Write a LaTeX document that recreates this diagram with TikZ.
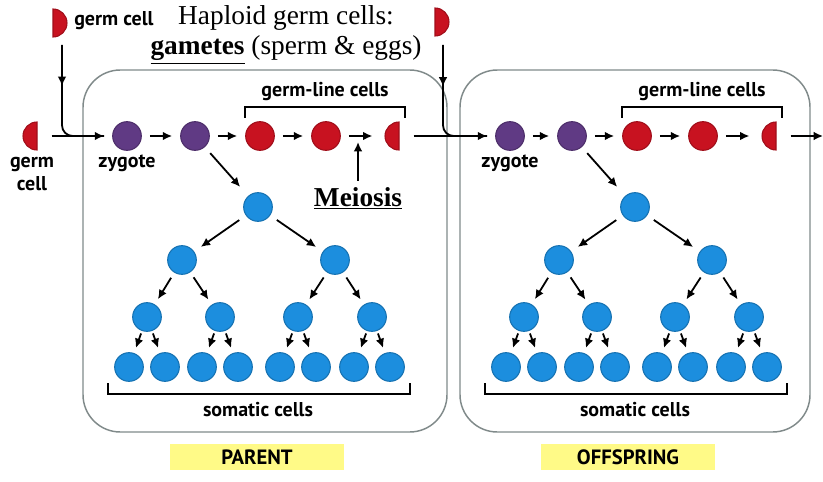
\documentclass[tikz,border=0pt]{standalone}
\usepackage{fontspec}
\setmainfont{Liberation Serif}
\setsansfont{PT Sans}
\usetikzlibrary{arrows.meta,decorations.markings}

\definecolor{zygpurple}{RGB}{96,58,132}
\definecolor{germred}{RGB}{200,18,32}
\definecolor{somablue}{RGB}{28,142,222}
\definecolor{boxgray}{RGB}{128,138,138}
\definecolor{tagyellow}{RGB}{255,250,135}

\tikzset{
	cell/.style={circle,minimum size=21.5pt,inner sep=0pt},
	zyg/.style={cell,fill=zygpurple,draw=zygpurple!80!black,line width=.8pt},
	germ/.style={cell,fill=germred,draw=germred!80!black,line width=.8pt},
	soma/.style={cell,fill=somablue,draw=somablue!80!black,line width=.8pt},
	arr/.style={-{Latex[length=7pt,width=6.5pt]},line width=1.35pt},
	midarr/.style={postaction={decorate},decoration={markings,
		mark=at position #1 with {\arrow{Latex[length=7pt,width=6.5pt]}}}},
	lab/.style={font=\sffamily\bfseries\fontsize{15}{17}\selectfont,inner sep=0pt},
	head/.style={font=\fontsize{20.5}{22}\selectfont,inner sep=0pt,anchor=base},
	meio/.style={head,font=\bfseries\fontsize{20.5}{22}\selectfont},
	brk/.style={line width=1pt},
	panel/.style={draw=boxgray,line width=1.1pt,rounded corners=28pt},
	tag/.style={fill=tagyellow,minimum width=131pt,minimum height=20pt,
		font=\sffamily\bfseries\fontsize{15.5}{16}\selectfont},
	lhalf/.pic={\filldraw[fill=germred,draw=germred!80!black,line width=.8pt]
		(0,-14) arc[start angle=-90,end angle=-270,radius=14] -- cycle;},
	rhalf/.pic={\filldraw[fill=germred,draw=germred!80!black,line width=.8pt]
		(0,-14) arc[start angle=-90,end angle=90,radius=14] -- cycle;}
}

\begin{document}
\begin{tikzpicture}[x=0.75pt,y=-0.75pt]
	\useasboundingbox (0,0) rectangle (823,481);

	% parent and offspring
	\draw[panel] (83,70) rectangle (447,432);
	\draw[panel] (460,70) rectangle (810,432);
	\node[tag] (parent) at (257,457) {PARENT};
	\node[tag] (offspring) at (628,457) {OFFSPRING};

	% title
	\node[head] (hap) at (286,25) {Haploid germ cells:};
	\node[head] (gam) at (286,55) {\textbf{\underline{gametes}} (sperm \& eggs)};

	% one generation per panel
	\foreach \p/\dx/\zx in {a/0/127,b/377/133}{
		\begin{scope}[shift={(\dx,0)}]
			\node[zyg] (\p-z) at (\zx,136) {};
			\node[zyg] (\p-m) at (195,136) {};
			\node[germ] (\p-g1) at (260,136) {};
			\node[germ] (\p-g2) at (326,136) {};
			\node[cell] (\p-h) at (399,136) {};
			\pic at (\p-h) {lhalf};
			\node[lab] (\p-zl) at (\zx,163) {zygote};
			\node[lab] (\p-gl) at (325,92) {germ-line cells};
			\draw[brk] (245,118) -- (245,107) -- (405,107) -- (405,118);
			\draw[arr,shorten <=6pt,shorten >=6pt] (\p-z) -- (\p-m);
			\draw[arr,shorten <=6pt,shorten >=6pt] (\p-m) -- (\p-g1);
			\draw[arr,shorten <=6pt,shorten >=6pt] (\p-g1) -- (\p-g2);
			\draw[arr,shorten <=6pt,shorten >=9pt] (\p-g2) -- (\p-h);

			% somatic line
			\node[soma] (\p-s0) at (258,207) {};
			\node[soma] (\p-s1) at (182,260) {};
			\node[soma] (\p-s2) at (335,260) {};
			\node[soma] (\p-s11) at (147,317) {};
			\node[soma] (\p-s12) at (220,317) {};
			\node[soma] (\p-s21) at (298,317) {};
			\node[soma] (\p-s22) at (372,317) {};
			\draw[arr,shorten <=6pt,shorten >=9pt] (\p-m) -- (\p-s0);
			\foreach \t in {s1,s2}
				\draw[arr,shorten <=6pt,shorten >=6pt] (\p-s0) -- (\p-\t);
			\foreach \s/\t in {s1/s11,s1/s12,s2/s21,s2/s22}
				\draw[arr,shorten <=4.5pt,shorten >=4.5pt] (\p-\s) -- (\p-\t);
			\foreach \q/\x in {s11/147,s12/220,s21/298,s22/372}{
				\node[soma] (\p-\q1) at (\x-18,367) {};
				\node[soma] (\p-\q2) at (\x+18,367) {};
				\draw[arr,shorten <=2pt,shorten >=4pt] (\p-\q) -- (\p-\q1);
				\draw[arr,shorten <=2pt,shorten >=4pt] (\p-\q) -- (\p-\q2);
			}
			\draw[brk] (108,383) -- (108,394) -- (410,394) -- (410,383);
			\node[lab] (\p-sl) at (258,410) {somatic cells};
		\end{scope}
	}

	% gametes coming in
	\node[cell] (gt1) at (53,23) {};
	\pic at (gt1) {rhalf};
	\node[lab,anchor=west] (gt1l) at (74,21) {germ cell};
	\coordinate (gt1o) at (62,45);
	\node[cell] (gl) at (37,136) {};
	\pic at (gl) {lhalf};
	\node[lab,align=center] (gll) at (32,174) {germ\\cell};
	\draw[line width=1.35pt,rounded corners=8pt,midarr=.3,shorten >=6pt] (gt1o) |- (a-z);
	\draw[arr,shorten >=6pt] (gl) -- (a-z);

	\node[cell] (gt2) at (435,22) {};
	\pic at (gt2) {rhalf};
	\coordinate (gt2o) at (443,45);
	\draw[line width=1.35pt,rounded corners=8pt,midarr=.3,shorten >=6pt] (gt2o) |- (b-z);
	\draw[arr,shorten >=6pt] (a-h) -- (b-z);
	\coordinate (out) at (823,136);
	\draw[arr] (b-h) -- (out);

	% meiosis
	\node[meio] (meio) at (358,206) {\underline{Meiosis}};
	\draw[arr,shorten <=4.5pt,shorten >=4.5pt] (meio.north) -- (meio.north |- a-g2);
\end{tikzpicture}
\end{document}
